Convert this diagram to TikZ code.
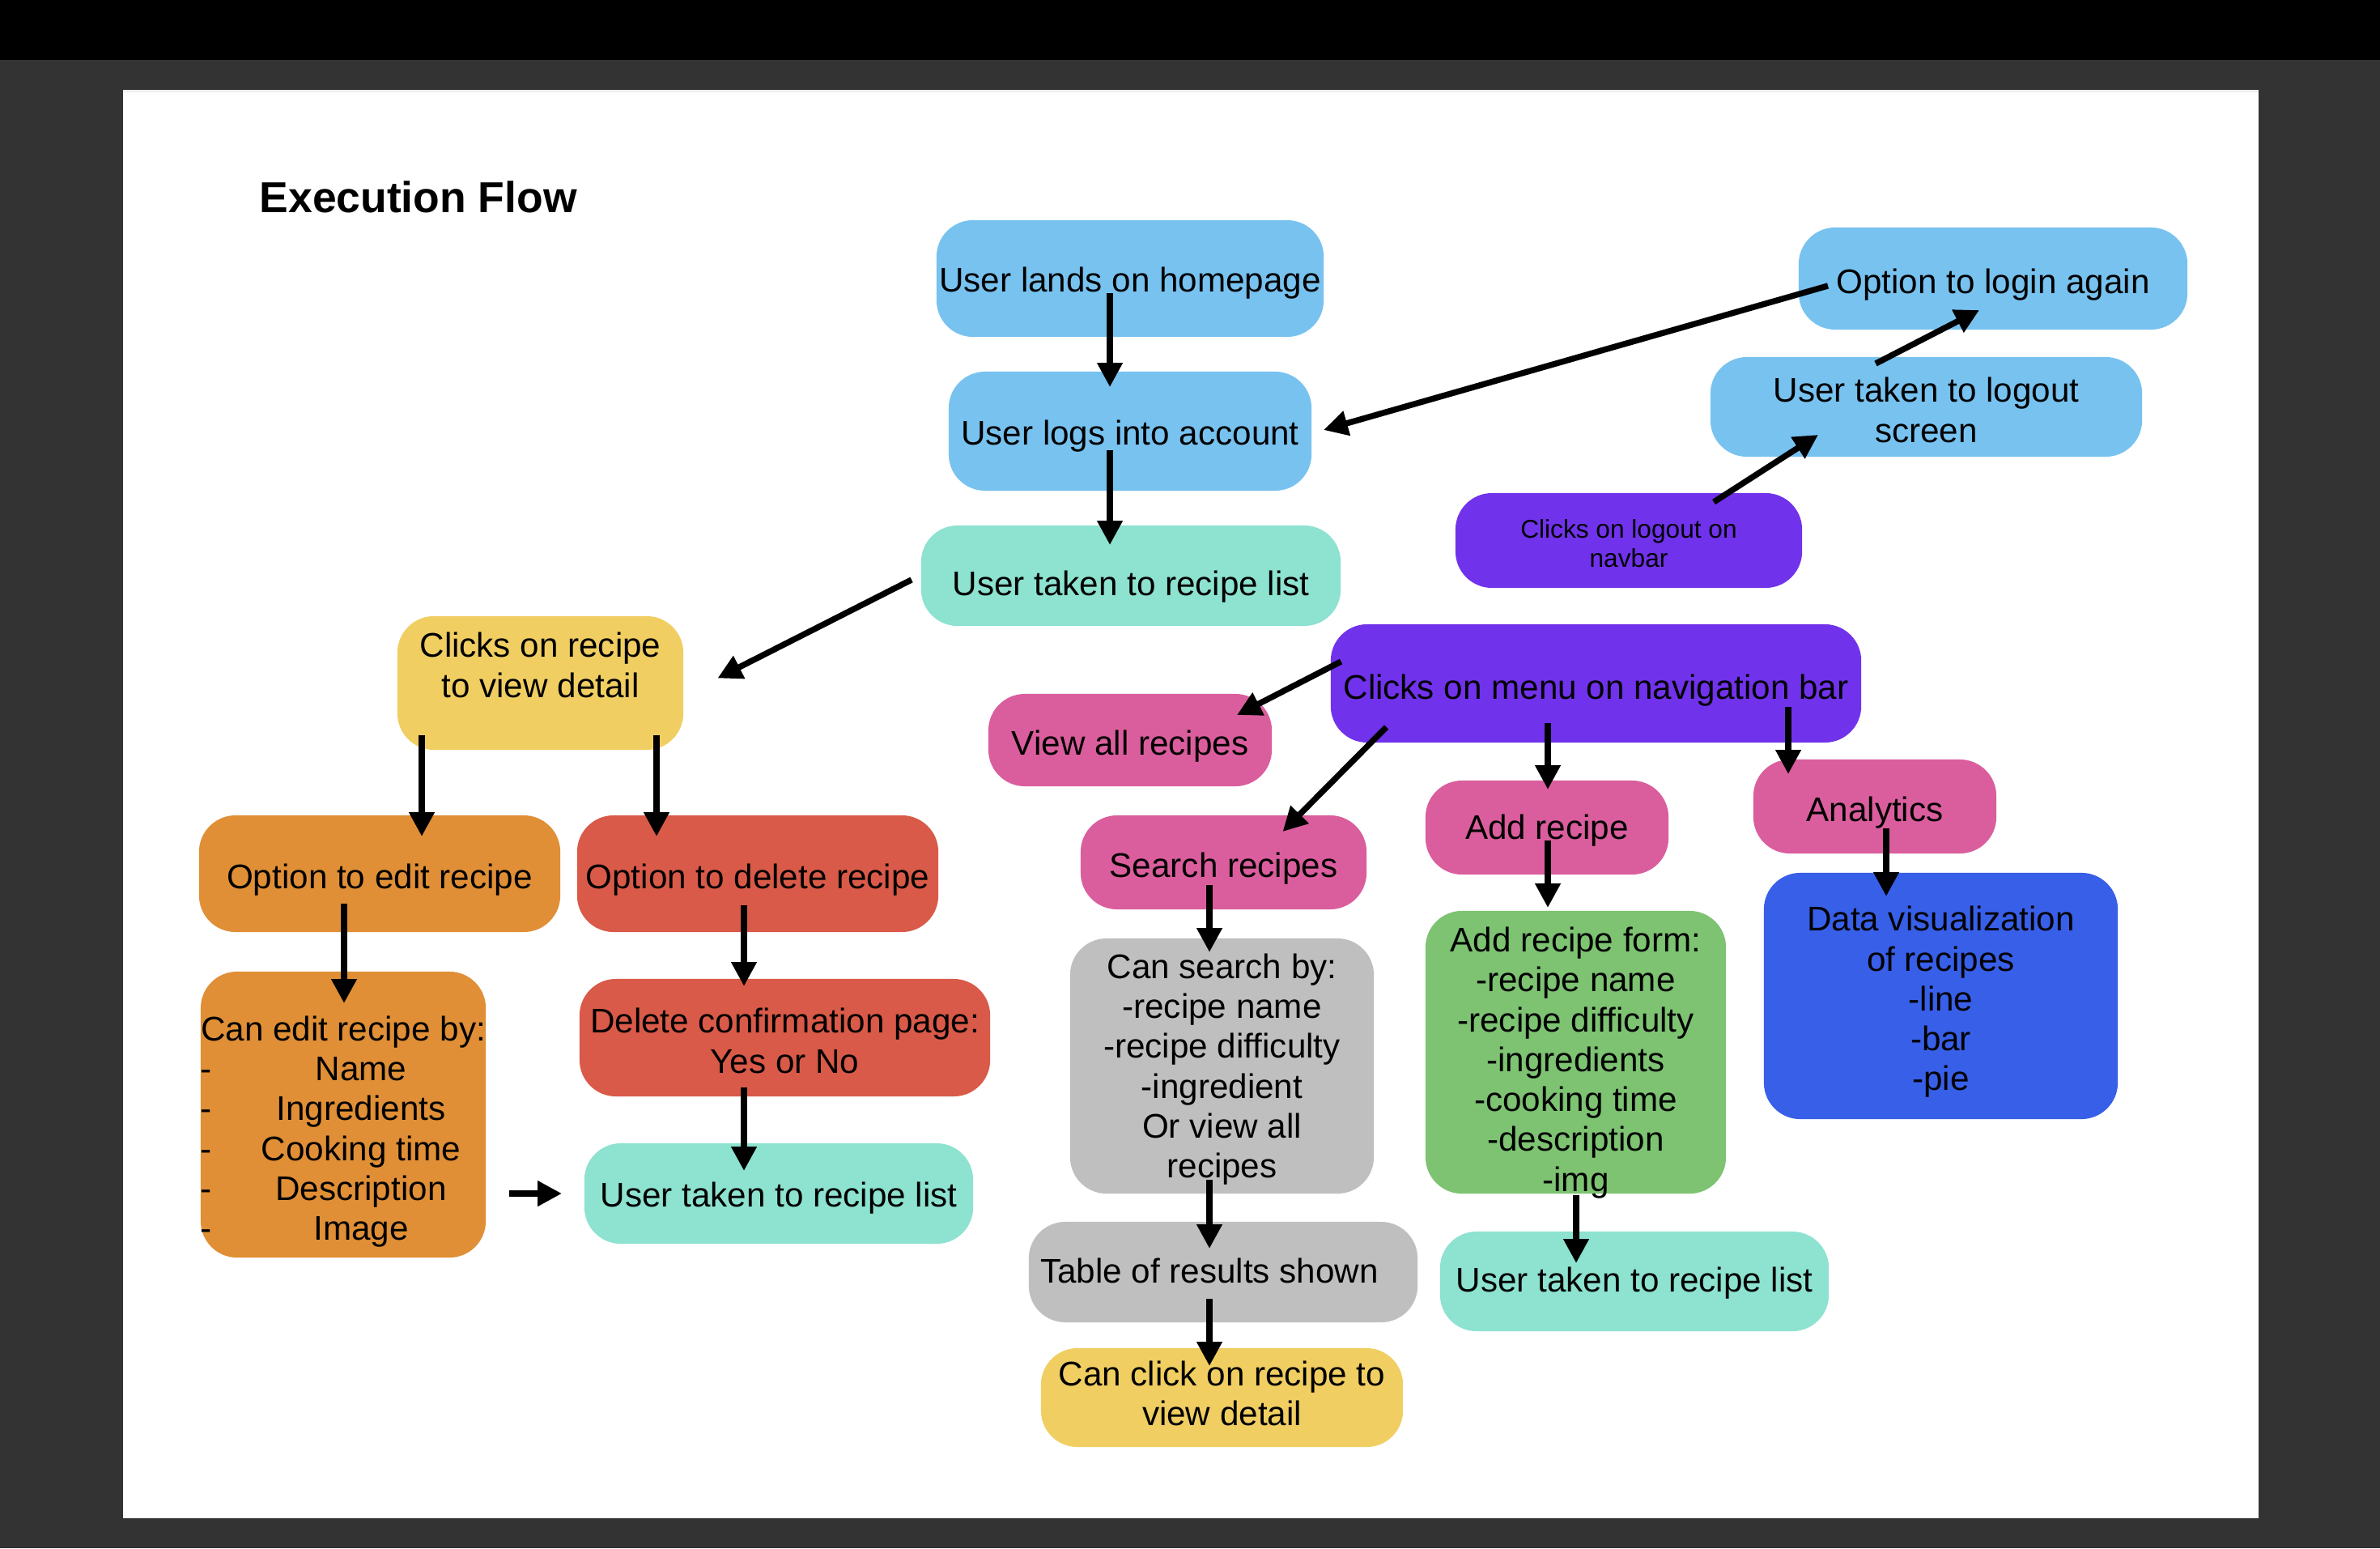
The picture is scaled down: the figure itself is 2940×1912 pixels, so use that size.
\documentclass[tikz,border=0pt]{standalone}
\usepackage{fontspec}
\setmainfont{Liberation Sans}
\usetikzlibrary{arrows.meta,calc}
\definecolor{cblue}{HTML}{78C2F0}
\definecolor{cteal}{HTML}{8DE2D0}
\definecolor{cpurple}{HTML}{7132EB}
\definecolor{cpink}{HTML}{DA5E9D}
\definecolor{cyellow}{HTML}{F0CE62}
\definecolor{corange}{HTML}{E08F36}
\definecolor{cred}{HTML}{D95A48}
\definecolor{cgray}{HTML}{BFBFBF}
\definecolor{cgreen}{HTML}{7DC372}
\definecolor{cdblue}{HTML}{385FE8}
\definecolor{cbg}{HTML}{333333}
\definecolor{pageline}{HTML}{EEEEEE}
\newcommand{\editline}[1]{\makebox[3.52cm][l]{\rlap{-}\hspace*{0.44cm}\makebox[3.08cm]{#1}}}
\begin{document}
\begin{tikzpicture}[x=0.01cm,y=-0.01cm,font=\fontsize{12}{14}\selectfont,
  box/.style={rounded corners=0.45cm, inner sep=0pt, draw=none},
  txt/.style 2 args={label={[align=center, yshift=#1]center:{#2}}},
  txts/.style 2 args={label={[align=center, yshift=#1, font=\fontsize{9}{10.2}\selectfont]center:{#2}}},
  arr/.style={line width=2.1pt, -{Triangle[length=8.5pt,width=8.5pt]}}]
\useasboundingbox (0,0) rectangle (2940,1912);
% background
\fill[black] (0,0) rectangle (2940,74);
\fill[cbg] (0,74) rectangle (2940,1912);
\fill[white] (152,111) rectangle (2790,1875);
\fill[pageline] (152,111) rectangle (2790,114);

\node[anchor=base west, inner sep=0pt, font=\fontsize{15.2}{18}\selectfont\bfseries] (title) at (320,262) {Execution Flow};

% top column
\node[box, fill=cblue, minimum width=4.78cm, minimum height=1.44cm, txt={-0.056cm}{User lands on homepage}] (n1) at (1396,344) {};
\node[box, fill=cblue, minimum width=4.48cm, minimum height=1.47cm, txt={-0.056cm}{User logs into account}] (n2) at (1396,532.5) {};
\node[box, fill=cteal, minimum width=5.18cm, minimum height=1.24cm, txt={-0.14cm}{User taken to recipe list}] (n3) at (1397,711) {};

% logout branch
\node[box, fill=cblue, minimum width=4.80cm, minimum height=1.26cm, txt={-0.075cm}{Option to login again}] (n4) at (2462,344) {};
\node[box, fill=cblue, minimum width=5.33cm, minimum height=1.23cm, txt={-0.04cm}{User taken to logout\\screen}] (n5) at (2379.5,502.5) {};
\node[box, fill=cpurple, minimum width=4.28cm, minimum height=1.17cm, txts={-0.04cm}{Clicks on logout on\\navbar}] (n6) at (2012,667.5) {};

% navigation
\node[box, fill=cpurple, minimum width=6.55cm, minimum height=1.46cm, txt={-0.09cm}{Clicks on menu on navigation bar}] (n7) at (1971.5,844) {};
\node[box, fill=cpink, minimum width=3.50cm, minimum height=1.14cm, txt={-0.075cm}{View all recipes}] (n8) at (1396,914) {};
\node[box, fill=cpink, minimum width=3.53cm, minimum height=1.16cm, txt={-0.075cm}{Search recipes}] (n9) at (1511.5,1065) {};
\node[box, fill=cpink, minimum width=3.00cm, minimum height=1.16cm, txt={-0.04cm}{Add recipe}] (n10) at (1911,1022) {};
\node[box, fill=cpink, minimum width=3.00cm, minimum height=1.16cm, txt={-0.075cm}{Analytics}] (n11) at (2316,996) {};
\node[box, fill=cdblue, minimum width=4.37cm, minimum height=3.04cm, txt={-0.075cm}{Data visualization\\of recipes\\-line\\-bar\\-pie}] (n12) at (2397.5,1230) {};
\node[box, fill=cgreen, minimum width=3.71cm, minimum height=3.49cm, txt={-0.13cm}{Add recipe form:\\-recipe name\\-recipe difficulty\\-ingredients\\-cooking time\\-description\\-img}] (n13) at (1946.5,1299.5) {};
\node[box, fill=cteal, minimum width=4.80cm, minimum height=1.23cm, txt={-0.02cm}{User taken to recipe list}] (n14) at (2019,1582.5) {};
\node[box, fill=cgray, minimum width=3.75cm, minimum height=3.15cm, txt={-0.04cm}{Can search by:\\-recipe name\\-recipe difficulty\\-ingredient\\Or view all\\recipes}] (n15) at (1509.5,1316.5) {};
\node[box, fill=cgray, minimum width=4.80cm, minimum height=1.24cm,
  label={[xshift=-0.17cm, yshift=0.02cm]center:{Table of results shown}}] (n16) at (1511,1571) {};
\node[box, fill=cyellow, minimum width=4.47cm, minimum height=1.22cm, txt={0.05cm}{Can click on recipe to\\view detail}] (n17) at (1509.5,1726) {};

% recipe detail branch
\node[box, fill=cyellow, minimum width=3.53cm, minimum height=1.65cm, txt={0.22cm}{Clicks on recipe\\to view detail}] (n18) at (667.5,843.5) {};
\node[box, fill=corange, minimum width=4.46cm, minimum height=1.44cm, txt={-0.075cm}{Option to edit recipe}] (n19) at (469,1079) {};
\node[box, fill=cred, minimum width=4.46cm, minimum height=1.44cm, txt={-0.075cm}{Option to delete recipe}] (n20) at (936,1079) {};
\node[box, fill=corange, minimum width=3.52cm, minimum height=3.53cm,
  label={[align=left, yshift=-0.21cm]center:{\makebox[3.52cm]{Can edit recipe by:}\\\editline{Name}\\\editline{Ingredients}\\\editline{Cooking time}\\\editline{Description}\\\editline{Image}}}] (n21) at (424,1376.5) {};
\node[box, fill=cred, minimum width=5.07cm, minimum height=1.45cm, txt={-0.04cm}{Delete confirmation page:\\Yes or No}] (n22) at (969.5,1281.5) {};
\node[box, fill=cteal, minimum width=4.80cm, minimum height=1.24cm, txt={-0.056cm}{User taken to recipe list}] (n23) at (962,1474) {};

% connectors
\draw[arr] ($(n1.center)+(-25,18)$) -- ($(n2.center)+(-25,-54.5)$);
\draw[arr] ($(n2.center)+(-25,23.5)$) -- ($(n3.center)+(-26,-38)$);
\draw[arr] ($(n4.center)+(-204,9)$) -- ($(n2.center)+(239,-1.5)$);
\draw[arr] ($(n5.center)+(-62.5,-53.5)$) -- ($(n4.center)+(-17,39)$);
\draw[arr] ($(n6.center)+(105,-47.5)$) -- ($(n5.center)+(-133.5,34.5)$);
\draw[arr] ($(n3.center)+(-271,5)$) -- ($(n18.center)+(219,-6)$);
\draw[arr] ($(n18.center)+(-146.5,64.5)$) -- ($(n19.center)+(52,-46)$);
\draw[arr] ($(n18.center)+(143.5,64.5)$) -- ($(n20.center)+(-125,-46)$);
\draw[arr] ($(n19.center)+(-44,37)$) -- ($(n21.center)+(1,-137.5)$);
\draw[arr] ($(n20.center)+(-17,39)$) -- ($(n22.center)+(-50.5,-63.5)$);
\draw[arr] ($(n22.center)+(-50.5,61.5)$) -- ($(n23.center)+(-43,-28)$);
\draw[arr] ($(n21.center)+(205,97.5)$) -- ($(n23.center)+(-268,0)$);
\draw[arr] ($(n7.center)+(-315,-27)$) -- ($(n8.center)+(132,-31)$);
\draw[arr] ($(n7.center)+(-259,54)$) -- ($(n9.center)+(73,-38)$);
\draw[arr] ($(n7.center)+(-59.5,49)$) -- ($(n10.center)+(1,-47)$);
\draw[arr] ($(n7.center)+(237.5,29)$) -- ($(n11.center)+(-107,-40)$);
\draw[arr] ($(n10.center)+(1,16)$) -- ($(n13.center)+(-34.5,-178.5)$);
\draw[arr] ($(n11.center)+(14,27)$) -- ($(n12.center)+(-67.5,-123)$);
\draw[arr] ($(n9.center)+(-17.5,28)$) -- ($(n15.center)+(-15.5,-140.5)$);
\draw[arr] ($(n15.center)+(-15.5,140.5)$) -- ($(n16.center)+(-17,-29)$);
\draw[arr] ($(n16.center)+(-17,33)$) -- ($(n17.center)+(-15.5,-39)$);
\draw[arr] ($(n13.center)+(0.5,176.5)$) -- ($(n14.center)+(-72,-22.5)$);
\end{tikzpicture}
\end{document}
